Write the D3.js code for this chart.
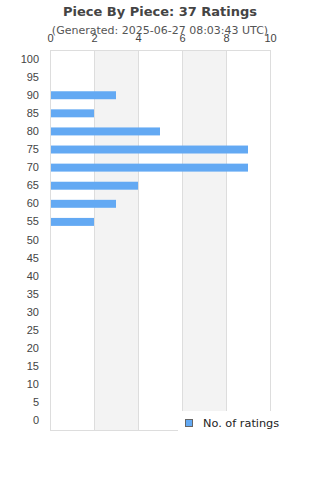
<!DOCTYPE html>
<html>
<head>
<meta charset="utf-8">
<script src="https://cdn.jsdelivr.net/npm/d3@7"></script>
<style>
  body { margin: 0; background: #fff; }
  svg { font-family: "DejaVu Sans", sans-serif; }
</style>
</head>
<body>
<svg width="320" height="480"></svg>
<script>
var scores = [100, 95, 90, 85, 80, 75, 70, 65, 60, 55, 50, 45, 40, 35, 30, 25, 20, 15, 10, 5, 0];
var ratings = [0, 0, 3, 2, 5, 9, 9, 4, 3, 2, 0, 0, 0, 0, 0, 0, 0, 0, 0, 0, 0];
var xTicks = [0, 2, 4, 6, 8, 10];

var margin = {top: 50, right: 50, bottom: 50, left: 50},
    width = 320 - margin.left - margin.right,
    height = 480 - margin.top - margin.bottom;

var svg = d3.select("svg");

var x = d3.scaleLinear().domain([0, 10]).range([0, width]);
var y = d3.scaleBand().domain(scores).range([0, height]).paddingInner(0.56).paddingOuter(0.28);

var g = svg.append("g")
    .attr("transform", "translate(" + margin.left + "," + margin.top + ")");

// alternating shaded bands
for (var i = 1; i < xTicks.length - 1; i += 2) {
    g.append("rect")
        .attr("x", x(xTicks[i]))
        .attr("y", 0)
        .attr("width", x(xTicks[i + 1]) - x(xTicks[i]))
        .attr("height", height)
        .attr("fill", "#f3f3f3");
}

g.selectAll(".grid")
    .data(xTicks)
    .enter().append("line")
    .attr("x1", function(d) { return x(d) + 0.5; })
    .attr("x2", function(d) { return x(d) + 0.5; })
    .attr("y1", 0)
    .attr("y2", height)
    .attr("stroke", "#dddddd");

g.append("line")
    .attr("x1", 0).attr("x2", width)
    .attr("y1", 0.5).attr("y2", 0.5)
    .attr("stroke", "#dddddd");
g.append("line")
    .attr("x1", 0).attr("x2", width)
    .attr("y1", height + 0.5).attr("y2", height + 0.5)
    .attr("stroke", "#dddddd");

g.selectAll(".bar")
    .data(scores)
    .enter().append("rect")
    .attr("x", x(0) + 1)
    .attr("y", function(d) { return y(d); })
    .attr("width", function(d, i) { return Math.max(0, x(ratings[i]) - 1); })
    .attr("height", y.bandwidth())
    .attr("fill", "#63a9f3");

var xAxis = g.append("g")
    .call(d3.axisTop(x).tickValues(xTicks).tickSize(0).tickPadding(8));
xAxis.select(".domain").remove();
xAxis.selectAll("text")
    .style("fill", "#444444")
    .style("font-size", "11px");

var yAxis = g.append("g")
    .call(d3.axisLeft(y).tickSize(0).tickPadding(11));
yAxis.select(".domain").remove();
yAxis.selectAll("text")
    .style("fill", "#444444")
    .style("font-size", "11px");

svg.append("text")
    .attr("x", 160)
    .attr("y", 16)
    .attr("text-anchor", "middle")
    .style("font-size", "13px")
    .style("font-weight", "bold")
    .style("fill", "#444444")
    .text("Piece By Piece: 37 Ratings");

svg.append("text")
    .attr("x", 160)
    .attr("y", 34)
    .attr("text-anchor", "middle")
    .style("font-size", "11px")
    .style("fill", "#555555")
    .text("(Generated: 2025-06-27 08:03:43 UTC)");

// legend
var legend = svg.append("g");
legend.append("rect")
    .attr("x", 178).attr("y", 411)
    .attr("width", 112).attr("height", 30)
    .attr("fill", "#fff");
legend.append("rect")
    .attr("x", 185.5).attr("y", 419.5)
    .attr("width", 7).attr("height", 7)
    .attr("fill", "#63a9f3")
    .attr("stroke", "#666");
legend.append("text")
    .attr("x", 203)
    .attr("y", 427)
    .style("font-size", "11.3px")
    .style("fill", "#222222")
    .text("No. of ratings");
</script>
</body>
</html>
